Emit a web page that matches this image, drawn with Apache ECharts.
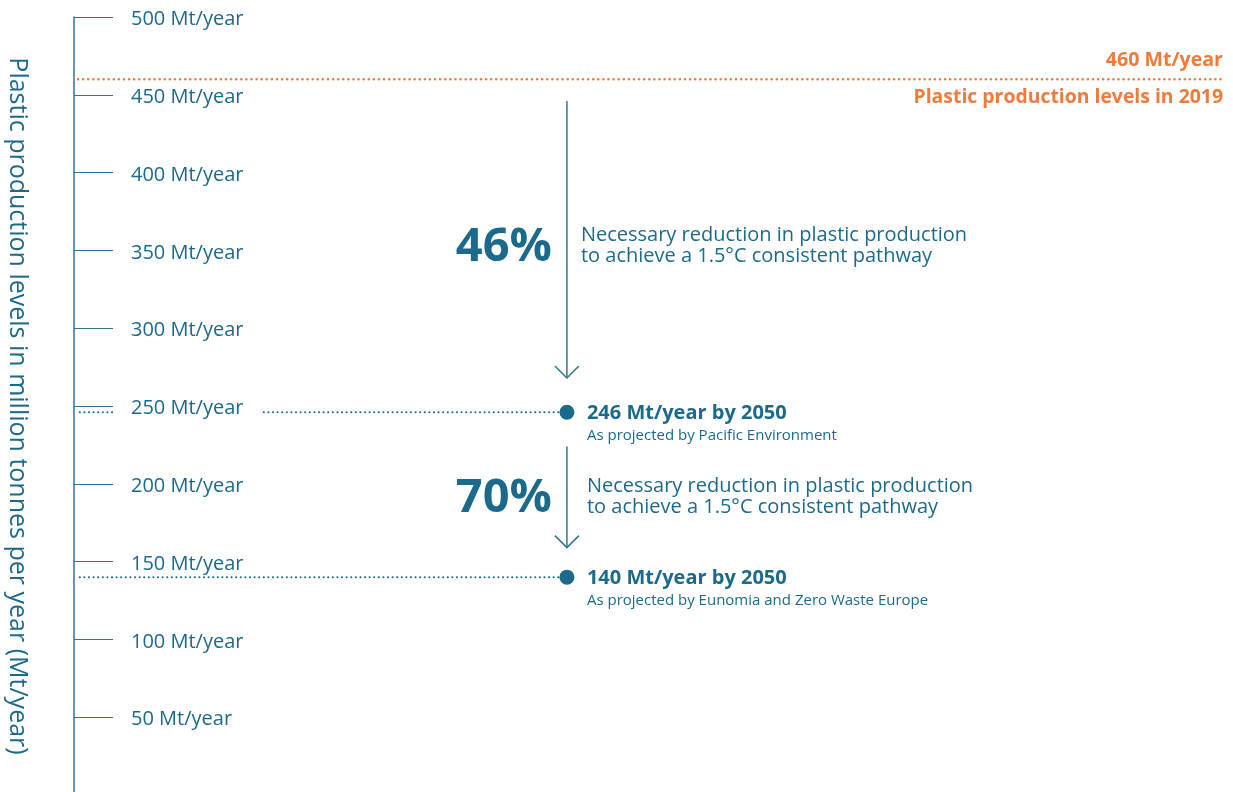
<!DOCTYPE html>
<html>
<head>
<meta charset="utf-8">
<style>html,body{margin:0;padding:0;background:#fff;}#chart{width:1233px;height:792px;}</style>
<script src="https://cdn.jsdelivr.net/npm/echarts@6/dist/echarts.min.js"></script>
</head>
<body>
<div id="chart"></div>
<script>
// ---- data ----
const yMin = 0, yMax = 500, yInterval = 50;
const tickSuffix = ' Mt/year';
const axisTitle = 'Plastic production levels in million tonnes per year (Mt/year)';
const refValue = [460];
const refLabels = ['460 Mt/year'];
const refCaptions = ['Plastic production levels in 2019'];
const projValues = [246, 140];
const projTitles = ['246 Mt/year by 2050', '140 Mt/year by 2050'];
const projSources = ['As projected by Pacific Environment', 'As projected by Eunomia and Zero Waste Europe'];
const reductionPct = ['46%', '70%'];
const arrowFrom = [446, 224];
const arrowTo = [268, 159];
const reductionText = [
  'Necessary reduction in plastic production\nto achieve a 1.5°C consistent pathway',
  'Necessary reduction in plastic production\nto achieve a 1.5°C consistent pathway'
];

// ---- style / layout ----
const BLUE = '#1b6a8c';
const AXIS = '#2f7594';
const ORANGE = '#f07a3c';
const FONT = '"Open Sans", sans-serif';
const PATH_X = 42.9;     // horizontal position of the pathway (hidden x scale 0..100)
const LINE_START_X = 0.5;
const REF_START_X = 0.35;
const descOffset = [14, 20];
const textShift = [6, 0];

const chart = echarts.init(document.getElementById('chart'), null, {renderer: 'canvas'});

const option = {
  animation: false,
  grid: {left: 74, right: 10, top: 17, height: 778, containLabel: false, outerBoundsMode: 'none'},
  xAxis: {type: 'value', min: 0, max: 100, show: false},
  yAxis: {
    type: 'value', min: yMin, max: yMax, interval: yInterval, position: 'left', z: 5,
    axisLine: {show: true, lineStyle: {color: AXIS, width: 1.5}},
    axisTick: {show: true, inside: true, length: 39, lineStyle: {color: AXIS, width: 1.2}},
    splitLine: {show: false},
    axisLabel: {
      inside: true, margin: 39, align: 'left',
      formatter: v => (v === 0 ? '' : '{t|' + v + tickSuffix + '}'),
      color: BLUE, fontFamily: FONT, fontSize: 20,
      backgroundColor: '#fff', padding: [0, 17, 0, 18],
      rich: {t: {color: BLUE, fontFamily: FONT, fontSize: 20, lineHeight: 18, padding: [5, 0, 0, 0]}}
    },
    name: axisTitle, nameLocation: 'middle', nameRotate: -90, nameGap: 44,
    nameTextStyle: {color: BLUE, fontFamily: FONT, fontSize: 25}
  },
  series: [
    {
      type: 'custom', z: 1, silent: true,
      data: refValue.map(v => [100, v]),
      renderItem: function (params, api) {
        const i = params.dataIndex;
        const v = api.value(1);
        const end = api.coord([100, v]);
        const start = api.coord([REF_START_X, v]);
        return {
          type: 'group',
          children: [
            {type: 'line', shape: {x1: start[0], y1: start[1], x2: end[0], y2: end[1]},
             style: {stroke: ORANGE, lineWidth: 2.5, lineDash: [0.1, 5], lineCap: 'round'}},
            {type: 'text', style: {text: refLabels[i], x: end[0], y: end[1] - 19, align: 'right', verticalAlign: 'middle',
              fill: ORANGE, font: 'bold 19.6px ' + FONT}},
            {type: 'text', style: {text: refCaptions[i], x: end[0], y: end[1] + 18, align: 'right', verticalAlign: 'middle',
              fill: ORANGE, font: 'bold 19.4px ' + FONT}}
          ]
        };
      }
    },
    {
      type: 'custom', z: 1, silent: true,
      data: projValues.map(v => [PATH_X, v]),
      renderItem: function (params, api) {
        const i = params.dataIndex;
        const v = api.value(1);
        const p = api.coord([PATH_X, v]);
        const s = api.coord([LINE_START_X, v]);
        return {
          type: 'group',
          children: [
            {type: 'line', shape: {x1: s[0], y1: s[1], x2: p[0] - 7, y2: p[1]},
             style: {stroke: BLUE, lineWidth: 2, lineDash: [0.1, 4.5], lineCap: 'round'}},
            {type: 'circle', shape: {cx: p[0], cy: p[1], r: 7.5}, style: {fill: BLUE}},
            {type: 'text', style: {text: projTitles[i], x: p[0] + 20, y: p[1] + 1, align: 'left', verticalAlign: 'middle',
              fill: BLUE, font: 'bold 20px ' + FONT}},
            {type: 'text', style: {text: projSources[i], x: p[0] + 20, y: p[1] + 24, align: 'left', verticalAlign: 'middle',
              fill: BLUE, font: '15px ' + FONT}}
          ]
        };
      }
    },
    {
      type: 'custom', z: 1, silent: true,
      data: arrowFrom.map((v, i) => [PATH_X, v, arrowTo[i]]),
      renderItem: function (params, api) {
        const i = params.dataIndex;
        const t = api.coord([PATH_X, api.value(1)]);
        const b = api.coord([PATH_X, api.value(2)]);
        const mid = (t[1] + b[1]) / 2 + textShift[i];
        return {
          type: 'group',
          children: [
            {type: 'line', shape: {x1: t[0], y1: t[1], x2: b[0], y2: b[1]}, style: {stroke: AXIS, lineWidth: 1.5}},
            {type: 'polyline', shape: {points: [[b[0] - 12, b[1] - 12], [b[0], b[1]], [b[0] + 12, b[1] - 12]]},
             style: {stroke: AXIS, lineWidth: 1.5, fill: 'none'}},
            {type: 'text', style: {text: reductionPct[i], x: t[0] - 15, y: mid + 2, align: 'right', verticalAlign: 'middle',
              fill: BLUE, font: 'bold 47px ' + FONT}},
            {type: 'text', style: {text: reductionText[i], x: t[0] + descOffset[i], y: mid, align: 'left', verticalAlign: 'middle',
              fill: BLUE, font: '20px ' + FONT, lineHeight: 21}}
          ]
        };
      }
    }
  ]
};
chart.setOption(option);
</script>
</body>
</html>
